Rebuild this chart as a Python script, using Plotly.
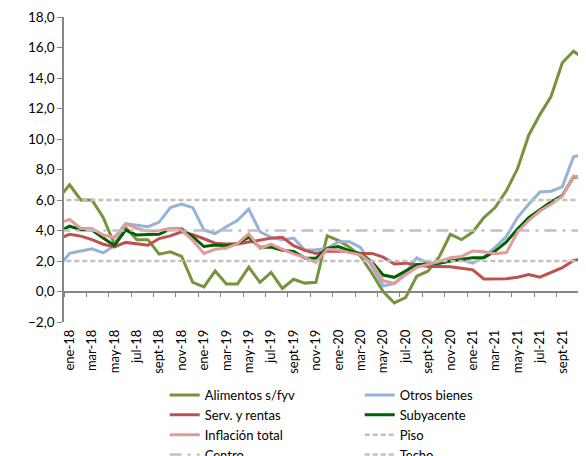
import plotly.graph_objects as go

# meses (dic-17 queda fuera del rango visible, solo da la pendiente inicial)
meses = [
    "dic-17",
    "ene-18", "feb-18", "mar-18", "abr-18", "may-18", "jun-18",
    "jul-18", "ago-18", "sept-18", "oct-18", "nov-18", "dic-18",
    "ene-19", "feb-19", "mar-19", "abr-19", "may-19", "jun-19",
    "jul-19", "ago-19", "sept-19", "oct-19", "nov-19", "dic-19",
    "ene-20", "feb-20", "mar-20", "abr-20", "may-20", "jun-20",
    "jul-20", "ago-20", "sept-20", "oct-20", "nov-20", "dic-20",
    "ene-21", "feb-21", "mar-21", "abr-21", "may-21", "jun-21",
    "jul-21", "ago-21", "sept-21", "oct-21", "nov-21",
]

alimentos = [
    6.1,
    7.0, 6.0, 6.0, 4.85, 3.1, 4.2, 3.4, 3.4, 2.45, 2.6, 2.3, 0.6,
    0.3, 1.35, 0.5, 0.5, 1.6, 0.6, 1.25, 0.2, 0.8, 0.55, 0.6, 3.65,
    3.35, 2.9, 2.3, 1.2, 0.0, -0.75, -0.4, 1.0, 1.33, 2.26, 3.75, 3.4,
    3.9, 4.85, 5.5, 6.6, 8.05, 10.25, 11.6, 12.8, 15.0, 15.75, 15.25,
]
otros_bienes = [
    1.6,
    2.5, 2.65, 2.8, 2.53, 3.0, 4.45, 4.35, 4.25, 4.55, 5.5, 5.73, 5.5,
    4.03, 3.8, 4.25, 4.67, 5.4, 3.92, 3.55, 3.4, 3.5, 2.72, 2.74, 2.82,
    3.27, 3.27, 2.88, 1.62, 0.37, 0.52, 1.22, 2.2, 1.86, 1.85, 2.0, 2.08,
    1.86, 2.28, 2.9, 3.6, 4.85, 5.72, 6.53, 6.58, 6.86, 8.84, 9.0,
]
serv_rentas = [
    3.45,
    3.75, 3.63, 3.4, 3.1, 2.92, 3.22, 3.14, 3.03, 3.47, 3.65, 3.92, 3.73,
    3.46, 3.17, 3.12, 3.12, 3.24, 3.35, 3.5, 3.55, 3.0, 2.7, 2.5, 2.64,
    2.66, 2.62, 2.5, 2.5, 2.25, 1.8, 1.86, 1.75, 1.64, 1.64, 1.62, 1.52,
    1.42, 0.82, 0.83, 0.83, 0.94, 1.12, 0.94, 1.27, 1.56, 2.04, 2.15,
]
subyacente = [
    3.9,
    4.28, 4.05, 4.03, 3.5, 3.02, 4.03, 3.7, 3.73, 3.75, 4.1, 4.1, 3.6,
    2.95, 3.05, 3.0, 3.15, 3.56, 2.9, 2.92, 2.7, 2.63, 2.2, 2.18, 2.82,
    2.95, 2.68, 2.45, 1.95, 1.08, 0.93, 1.36, 1.75, 1.8, 1.86, 2.0, 2.12,
    2.22, 2.22, 2.65, 3.25, 4.1, 4.85, 5.37, 5.88, 6.3, 7.52, 7.48,
]
inflacion_total = [
    4.5,
    4.72, 4.13, 4.13, 3.7, 3.54, 4.45, 4.13, 3.96, 3.98, 4.14, 4.03, 3.35,
    2.5, 2.77, 2.85, 3.15, 3.78, 2.82, 3.1, 2.77, 2.47, 2.24, 1.9, 2.77,
    2.72, 2.55, 2.4, 1.85, 0.7, 0.53, 1.1, 1.58, 1.75, 1.97, 2.22, 2.3,
    2.66, 2.6, 2.48, 2.55, 3.9, 4.67, 5.28, 5.72, 6.25, 7.57, 7.46,
]
# rango meta
piso = [2.0] * len(meses)
centro = [4.0] * len(meses)
techo = [6.0] * len(meses)

series = [
    ("Alimentos s/fyv", alimentos, "#77933C", "solid"),
    ("Otros bienes", otros_bienes, "#95B3D7", "solid"),
    ("Serv. y rentas", serv_rentas, "#C0504D", "solid"),
    ("Subyacente", subyacente, "#006100", "solid"),
    ("Inflación total", inflacion_total, "#E29B9A", "solid"),
    ("Piso", piso, "#C0C0C0", "5px,3px"),
    ("Centro", centro, "#C0C0C0", "12px,6px,3px,6px"),
    ("Techo", techo, "#C0C0C0", "5px,3px"),
]

fig = go.Figure()
for name, vals, color, dash in series:
    fig.add_trace(
        go.Scatter(
            x=meses,
            y=vals,
            mode="lines",
            name=name,
            line=dict(color=color, width=3 if dash == "solid" else 2.5, dash=dash),
        )
    )

# eje de etiquetas abajo (el eje con la linea cruza en 0)
fig.add_trace(
    go.Scatter(
        x=meses, y=[None] * len(meses), xaxis="x2", showlegend=False, hoverinfo="skip"
    )
)

# the page body has an 8px margin, so the plot is shifted up/left by 8px
# and the right part of the chart falls outside the window, as in the original
x_range = [0.5, 47.83]
axis_color = "#868686"

fig.update_layout(
    width=586,
    height=456,
    margin=dict(l=56, r=0, t=9, b=142, autoexpand=False),
    plot_bgcolor="white",
    paper_bgcolor="white",
    separators=",.",
    font=dict(family="Lato, sans-serif", size=13, color="#000000"),
    xaxis=dict(
        type="category",
        range=x_range,
        anchor="free",
        position=0.1,
        showline=True,
        linecolor=axis_color,
        linewidth=1.5,
        ticks="outside",
        ticklen=5,
        tickcolor=axis_color,
        tickson="boundaries",
        tick0=1,
        dtick=2,
        showticklabels=False,
        showgrid=False,
        zeroline=False,
    ),
    xaxis2=dict(
        type="category",
        overlaying="x",
        anchor="y",
        side="bottom",
        range=x_range,
        tick0=1,
        dtick=2,
        tickangle=-90,
        ticks="",
        ticklabelstandoff=4,
        showline=False,
        showgrid=False,
        zeroline=False,
        tickfont=dict(size=13),
    ),
    yaxis=dict(
        range=[-2, 18],
        dtick=2,
        tickformat=".1f",
        showline=True,
        linecolor=axis_color,
        linewidth=1.5,
        ticks="outside",
        ticklen=5,
        tickcolor=axis_color,
        showgrid=False,
        zeroline=False,
        tickfont=dict(size=13.5),
    ),
    legend=dict(
        orientation="h",
        x=0.19,
        xanchor="left",
        y=-0.19,
        yanchor="top",
        entrywidth=150,
        tracegroupgap=0,
        font=dict(size=13),
        bgcolor="rgba(0,0,0,0)",
    ),
)

fig.write_html("out.html")
